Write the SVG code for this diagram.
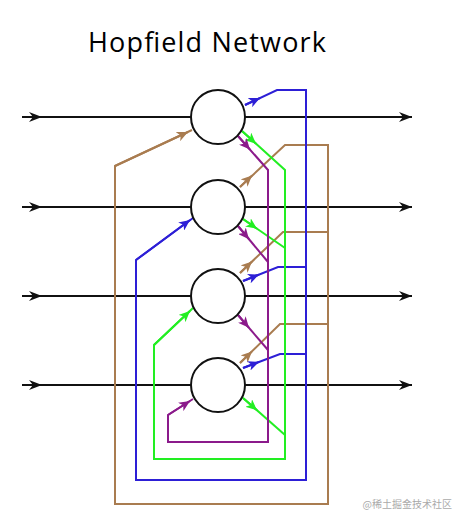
<svg xmlns="http://www.w3.org/2000/svg" width="455" height="515" viewBox="0 0 455 515">
<style>
.c{fill:none;stroke-width:2;stroke-linejoin:miter}
.br{stroke:#a97c50}.bl{stroke:#2d1fd6}.gr{stroke:#22ee22}.pu{stroke:#8b1a8b}
.bk{stroke:#111;stroke-width:2;fill:none}
.nd{fill:#fff;stroke:#111;stroke-width:2}
</style>
<defs>
<marker id="mbr" markerUnits="userSpaceOnUse" markerWidth="12" markerHeight="10" refX="11" refY="5" orient="auto"><path d="M0,0 L11,5 L0,10 L3,5 z" fill="#a97c50"/></marker>
<marker id="mbl" markerUnits="userSpaceOnUse" markerWidth="12" markerHeight="10" refX="11" refY="5" orient="auto"><path d="M0,0 L11,5 L0,10 L3,5 z" fill="#2d1fd6"/></marker>
<marker id="mgr" markerUnits="userSpaceOnUse" markerWidth="12" markerHeight="10" refX="11" refY="5" orient="auto"><path d="M0,0 L11,5 L0,10 L3,5 z" fill="#22ee22"/></marker>
<marker id="mpu" markerUnits="userSpaceOnUse" markerWidth="12" markerHeight="10" refX="11" refY="5" orient="auto"><path d="M0,0 L11,5 L0,10 L3,5 z" fill="#8b1a8b"/></marker>
<marker id="mbk" markerUnits="userSpaceOnUse" markerWidth="14" markerHeight="10" refX="13" refY="5" orient="auto"><path d="M0,0 L13,5 L0,10 L4,5 z" fill="#111"/></marker>
</defs>
<text x="88" y="52" font-family="'Open Sans','Liberation Sans',sans-serif" font-size="27" textLength="238" fill="#000">Hopfield Network</text>
<g id="connectors">
<!-- black inputs/outputs -->
<path class="bk" d="M22,117 H412" marker-end="url(#mbk)"/>
<path class="bk" d="M22,207 H412" marker-end="url(#mbk)"/>
<path class="bk" d="M22,296 H412" marker-end="url(#mbk)"/>
<path class="bk" d="M22,385 H412" marker-end="url(#mbk)"/>
<path class="bk" d="M22,117 H42" marker-end="url(#mbk)"/>
<path class="bk" d="M22,207 H42" marker-end="url(#mbk)"/>
<path class="bk" d="M22,296 H42" marker-end="url(#mbk)"/>
<path class="bk" d="M22,385 H42" marker-end="url(#mbk)"/>
<!-- brown -->
<path class="c br" d="M192,130 L115,166 V504 H328 V145 H285 L240,187"/>
<path class="c br" d="M328,232 H283 L240,273"/>
<path class="c br" d="M328,324 H280 L240,363"/>
<path class="c br" d="M115,166 L188,132" marker-end="url(#mbr)"/>
<path class="c br" d="M240,187 L252,175.5" marker-end="url(#mbr)"/>
<path class="c br" d="M240,273 L252,261.5" marker-end="url(#mbr)"/>
<path class="c br" d="M240,363 L252,351.4" marker-end="url(#mbr)"/>
<!-- blue -->
<path class="c bl" d="M245,105 L277,90 H306 V480 H136 V260 L193,218"/>
<path class="c bl" d="M306,267 H278 L243,281"/>
<path class="c bl" d="M306,354 H280 L243,368"/>
<path class="c bl" d="M245,105 L260,98" marker-end="url(#mbl)"/>
<path class="c bl" d="M136,260 L190,220" marker-end="url(#mbl)"/>
<path class="c bl" d="M243,281 L259,274.6" marker-end="url(#mbl)"/>
<path class="c bl" d="M243,368 L259,361.9" marker-end="url(#mbl)"/>
<!-- green -->
<path class="c gr" d="M242,131 L285,170 V459 H154 V345 L193,308"/>
<path class="c gr" d="M243,219 L285,248"/>
<path class="c gr" d="M243,398 L285,435"/>
<path class="c gr" d="M242,131 L256,143.7" marker-end="url(#mgr)"/>
<path class="c gr" d="M243,219 L257,228.7" marker-end="url(#mgr)"/>
<path class="c gr" d="M154,345 L190,311" marker-end="url(#mgr)"/>
<path class="c gr" d="M243,398 L257,410.3" marker-end="url(#mgr)"/>
<!-- purple -->
<path class="c pu" d="M238,136 L268,170 V442 H168 V415 L193,399"/>
<path class="c pu" d="M238,226 L268,262"/>
<path class="c pu" d="M238,315 L268,350"/>
<path class="c pu" d="M238,136 L250,149.6" marker-end="url(#mpu)"/>
<path class="c pu" d="M238,226 L249,239.2" marker-end="url(#mpu)"/>
<path class="c pu" d="M238,315 L249,327.8" marker-end="url(#mpu)"/>
<path class="c pu" d="M168,415 L190,401" marker-end="url(#mpu)"/>
</g>
<g id="n1"><circle class="nd" cx="218" cy="117" r="27"/></g>
<g id="n2"><circle class="nd" cx="218" cy="207" r="27"/></g>
<g id="n3"><circle class="nd" cx="218" cy="296" r="27"/></g>
<g id="n4"><circle class="nd" cx="218" cy="385" r="27"/></g>
<text x="452" y="508" text-anchor="end" font-family="'Noto Sans CJK SC',sans-serif" font-size="10" fill="#aaa">@稀土掘金技术社区</text>
</svg>
